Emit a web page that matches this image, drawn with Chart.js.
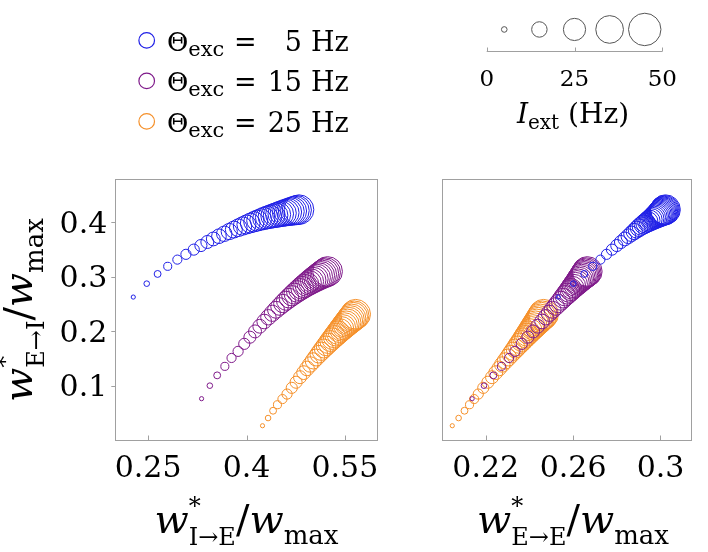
<!DOCTYPE html>
<html><head><meta charset="utf-8">
<script src="https://cdn.jsdelivr.net/npm/chart.js@4"></script>
<style>
html,body{margin:0;padding:0;background:#fff;}
#wrap{position:relative;width:708px;height:552px;overflow:hidden;background:#fff;}
canvas{position:absolute;}
#c1{left:0;top:150px;}
#c2{left:420px;top:150px;}
#c3{left:460px;top:0;}
svg{position:absolute;left:0;top:0;pointer-events:none;}
</style></head><body>
<div id="wrap">
<canvas id="c1" width="400" height="340"></canvas>
<canvas id="c2" width="288" height="340"></canvas>
<canvas id="c3" width="240" height="140"></canvas>
<svg id="ov" width="708" height="552" font-family="DejaVu Serif"></svg>
</div>
<script>
// ---- data ----
const thetaExc = [5, 15, 25];
const iExt = [4,5,6,7,8,9,10,11,12,13,14,15,16,17,18,19,20,21,22,23,24,25,26,27,28,29,30,31,32,33,34,35,36,37,38,39];
const sizeLegendI = [5, 15, 25, 35, 45];

const blueEI = [0.264,0.2886,0.3064,0.3204,0.3327,0.3424,0.351,0.3585,0.365,0.3706,0.3756,0.3801,0.3842,0.3878,0.3912,0.3943,0.3971,0.3997,0.4021,0.4042,0.4063,0.4081,0.4098,0.4113,0.4128,0.4141,0.4153,0.4166,0.4178,0.4189,0.4199,0.4209,0.4218,0.4227,0.4235,0.4243];
const blueIE = [0.2274,0.2479,0.2645,0.2799,0.2946,0.3077,0.3196,0.3305,0.3403,0.3494,0.3580,0.3661,0.3737,0.3807,0.3875,0.3939,0.3999,0.4057,0.4113,0.4163,0.4216,0.4264,0.4310,0.4355,0.4401,0.4444,0.4482,0.4522,0.4560,0.4598,0.4633,0.4669,0.4701,0.4737,0.4767,0.4800];
const blueEE = [0.2532,0.2601,0.2651,0.2690,0.2725,0.2753,0.2778,0.2800,0.2819,0.2837,0.2853,0.2867,0.2880,0.2891,0.2902,0.2912,0.2923,0.2932,0.2942,0.2950,0.2958,0.2965,0.2971,0.2977,0.2982,0.2987,0.2992,0.2996,0.3000,0.3004,0.3008,0.3011,0.3014,0.3017,0.3020,0.3023];

const purpleEI = [0.0776,0.1015,0.1204,0.1369,0.1523,0.1644,0.1782,0.1904,0.2010,0.2105,0.2192,0.2270,0.2342,0.2407,0.2467,0.2522,0.2573,0.2620,0.2664,0.2703,0.2743,0.2778,0.2811,0.2842,0.2873,0.2901,0.2926,0.2951,0.2975,0.2997,0.3018,0.3038,0.3057,0.3076,0.3092,0.3109];
const purpleIE = [0.3315,0.3441,0.3553,0.3670,0.3772,0.3872,0.3966,0.4052,0.4130,0.4202,0.4270,0.4334,0.4394,0.4450,0.4504,0.4554,0.4602,0.4648,0.4692,0.4732,0.4774,0.4812,0.4848,0.4884,0.4920,0.4954,0.4984,0.5016,0.5046,0.5076,0.5104,0.5132,0.5158,0.5186,0.5210,0.5236];
const purpleEE = [0.2138,0.2192,0.2235,0.2272,0.2307,0.2334,0.2365,0.2393,0.2417,0.2438,0.2458,0.2475,0.2491,0.2506,0.2520,0.2532,0.2544,0.2554,0.2564,0.2573,0.2582,0.2590,0.2597,0.2604,0.2611,0.2618,0.2623,0.2629,0.2634,0.2639,0.2644,0.2649,0.2653,0.2657,0.2661,0.2665];

const orangeEI = [0.028,0.0421,0.0555,0.0665,0.0769,0.0861,0.0975,0.1078,0.1170,0.1254,0.1331,0.1403,0.1470,0.1532,0.1592,0.1646,0.1697,0.1745,0.1792,0.1834,0.1877,0.1915,0.1951,0.1988,0.2024,0.2057,0.2087,0.2117,0.2146,0.2175,0.2202,0.2228,0.2253,0.2280,0.2301,0.2325];
const orangeIE = [0.4244,0.4329,0.4405,0.4472,0.4548,0.4618,0.4690,0.4756,0.4816,0.4871,0.4923,0.4972,0.5018,0.5061,0.5103,0.5141,0.5178,0.5213,0.5247,0.5278,0.5310,0.5339,0.5366,0.5394,0.5422,0.5448,0.5471,0.5495,0.5518,0.5541,0.5563,0.5584,0.5604,0.5626,0.5644,0.5664];
const orangeEE = [0.2047,0.2076,0.2103,0.2126,0.2147,0.2166,0.2189,0.2210,0.2229,0.2246,0.2262,0.2276,0.2290,0.2303,0.2315,0.2326,0.2337,0.2346,0.2356,0.2365,0.2373,0.2381,0.2388,0.2396,0.2403,0.2410,0.2416,0.2422,0.2428,0.2434,0.2440,0.2445,0.2450,0.2456,0.2460,0.2465];

const yTicks = [0.1, 0.2, 0.3, 0.4];
const xTicksIE = [0.25, 0.4, 0.55];
const xTicksEE = [0.22, 0.26, 0.3];
const sizeTicks = [0, 25, 50];

// ---- styles ----
const COLORS = ['#1f1fe6', '#7f1a8a', '#f5902a'];
const FRAME = '#a0a0a0';
Chart.defaults.font.family = 'DejaVu Serif';
Chart.defaults.color = '#000';

function rOf(I){ return 3.0*Math.sqrt(I) - 3.9; }
function pts(xs, ys){ return xs.map((x,i)=>({x:x, y:ys[i], r:rOf(iExt[i])})); }
function ds(data, k){ return {data:data, borderColor:COLORS[k], backgroundColor:'rgba(0,0,0,0)', borderWidth:1, hoverRadius:0}; }
function fixTicks(arr){ return s => { s.ticks = arr.map(v=>({value:v})); }; }

const framePlugin = {
  id:'frame',
  afterDraw(chart){
    const o = chart.options.plugins.frame || {};
    const ctx = chart.ctx, a = chart.chartArea;
    ctx.save();
    ctx.strokeStyle = o.color || FRAME; ctx.lineWidth = 1;
    const L = Math.floor(a.left)+0.5, T = Math.floor(a.top)+0.5, R = Math.round(a.right)-0.5, B = Math.round(a.bottom)-0.5;
    if (o.box) ctx.strokeRect(L, T, R-L, B-T);
    if (o.axisLine) { ctx.beginPath(); ctx.moveTo(a.left, B); ctx.lineTo(a.right, B); ctx.stroke(); }
    if (o.tickLen) {
      const xs = chart.scales.x;
      ctx.beginPath();
      xs.ticks.forEach(t => { const px = Math.round(xs.getPixelForValue(t.value))+0.5; ctx.moveTo(px, B); ctx.lineTo(px, B - o.tickLen); });
      ctx.stroke();
    }
    ctx.restore();
  }
};

const common = { responsive:false, animation:false, devicePixelRatio:1, events:[] };

new Chart(document.getElementById('c1'), {
  type:'bubble',
  data:{datasets:[ ds(pts(blueIE, blueEI),0), ds(pts(purpleIE, purpleEI),1), ds(pts(orangeIE, orangeEI),2) ]},
  options:Object.assign({}, common, {
    layout:{padding:{top:29.3, right:22.3, left:0, bottom:0}},
    plugins:{legend:{display:false}, tooltip:{enabled:false}, frame:{box:true, tickLen:5}},
    scales:{
      x:{type:'linear', min:0.2, max:0.6, afterBuildTicks:fixTicks(xTicksIE), afterFit:s=>{s.height=49;},
         grid:{display:false, drawTicks:false}, border:{display:false},
         ticks:{font:{size:30}, padding:10, maxRotation:0, autoSkip:false, callback:v=>String(v)}},
      y:{type:'linear', min:0, max:0.48, afterBuildTicks:fixTicks(yTicks), afterFit:s=>{s.width=115.3;},
         grid:{drawOnChartArea:false, drawTicks:true, tickLength:4, color:FRAME}, border:{display:false},
         ticks:{font:{size:30}, padding:4, labelOffset:2, callback:v=>String(v)}}
    }
  }),
  plugins:[framePlugin]
});

new Chart(document.getElementById('c2'), {
  type:'bubble',
  data:{datasets:[ ds(pts(blueEE, blueEI),0), ds(pts(purpleEE, purpleEI),1), ds(pts(orangeEE, orangeEI),2) ]},
  options:Object.assign({}, common, {
    layout:{padding:{top:29.3, right:4, left:22, bottom:0}},
    plugins:{legend:{display:false}, tooltip:{enabled:false}, frame:{box:true, tickLen:5}},
    scales:{
      x:{type:'linear', min:0.2, max:0.3145, afterBuildTicks:fixTicks(xTicksEE), afterFit:s=>{s.height=49;},
         grid:{display:false, drawTicks:false}, border:{display:false},
         ticks:{font:{size:30}, padding:10, maxRotation:0, autoSkip:false, callback:v=>String(v)}},
      y:{type:'linear', display:false, min:0, max:0.48}
    }
  }),
  plugins:[framePlugin]
});

new Chart(document.getElementById('c3'), {
  type:'bubble',
  data:{datasets:[{data:sizeLegendI.map(I=>({x:I, y:0, r:rOf(I)})), borderColor:'#555', backgroundColor:'rgba(0,0,0,0)', borderWidth:1, clip:false}]},
  options:Object.assign({}, common, {
    layout:{padding:{top:0, right:37.7, left:26.7, bottom:0}},
    plugins:{legend:{display:false}, tooltip:{enabled:false}, frame:{axisLine:true, tickLen:4}},
    scales:{
      x:{type:'linear', min:0, max:50, afterBuildTicks:fixTicks(sizeTicks), afterFit:s=>{s.height=88.3;},
         grid:{display:false, drawTicks:false}, border:{display:false},
         ticks:{font:{size:23}, padding:15, maxRotation:0, autoSkip:false}},
      y:{type:'linear', display:false, min:-1, max:0.55}
    }
  }),
  plugins:[framePlugin]
});

// ---- text overlay ----
function wLabel(sub){
  return '<tspan font-style="italic">w</tspan><tspan font-size="24" dy="-19">*</tspan><tspan font-size="24" dx="-12" dy="31">'+sub+'</tspan><tspan dy="-12">/</tspan><tspan font-style="italic">w</tspan><tspan font-size="26" dy="11">max</tspan>';
}
let s = '';
const baselines = [50.7, 91.2, 131.7];
thetaExc.forEach((t,k)=>{
  const b = baselines[k];
  s += '<circle cx="146.7" cy="'+(b-10.3)+'" r="7.8" fill="none" stroke="'+COLORS[k]+'" stroke-width="1.2"/>';
  s += '<text x="167" y="'+b+'" font-size="26">Θ<tspan font-size="21" dy="5">exc</tspan></text>';
  s += '<text x="234" y="'+b+'" font-size="27">=</text>';
  s += '<text x="302" y="'+b+'" font-size="27" text-anchor="end">'+t+'</text>';
  s += '<text x="311" y="'+b+'" font-size="27">Hz</text>';
});
s += '<text x="573" y="123" font-size="28" text-anchor="middle"><tspan font-style="italic">I</tspan><tspan font-size="20" dy="6">ext</tspan><tspan dy="-6">&#160;(Hz)</tspan></text>';
s += '<text x="246.5" y="533" font-size="40" text-anchor="middle">'+wLabel('I→E')+'</text>';
s += '<text x="573" y="533" font-size="40" text-anchor="middle">'+wLabel('E→E')+'</text>';
s += '<text transform="translate(32,310) rotate(-90)" font-size="40" text-anchor="middle">'+wLabel('E→I')+'</text>';
document.getElementById('ov').innerHTML = s;
</script>
</body></html>
